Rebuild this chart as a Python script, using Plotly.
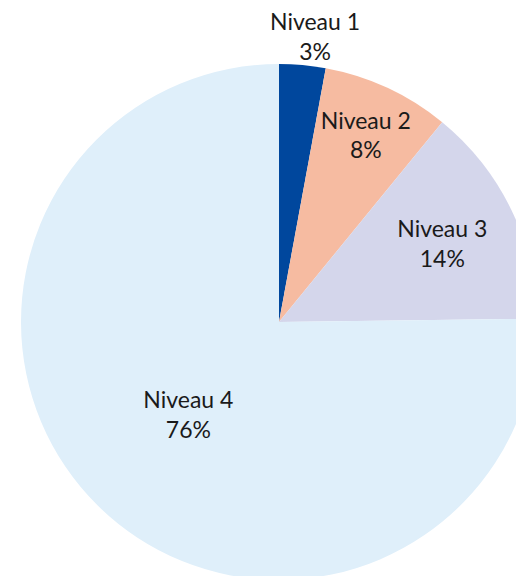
import plotly.graph_objects as go

# Répartition par niveau (parts)
niveaux = ["Niveau 1", "Niveau 2", "Niveau 3", "Niveau 4"]
parts = [2.9, 8.0, 13.9, 75.2]
etiquettes_pct = ["3%", "8%", "14%", "76%"]
couleurs = ["#00479D", "#F6BBA1", "#D4D6EB", "#DFEFFA"]

# la petite part est étiquetée au-dessus du camembert (annotation plus bas)
textes = [""] + [f"{n}<br>{p}" for n, p in zip(niveaux[1:], etiquettes_pct[1:])]

fig = go.Figure(go.Pie(
    labels=niveaux,
    values=parts,
    text=textes,
    textinfo="text",
    textposition="inside",
    insidetextorientation="horizontal",
    sort=False,
    direction="clockwise",
    rotation=0,
    marker=dict(colors=couleurs, line=dict(width=0)),
    textfont=dict(family="Lato", size=23, color="#1a1a1a"),
    hoverinfo="label+percent",
))

fig.add_annotation(
    x=0.565, y=1, xref="paper", yref="paper",
    xanchor="center", yanchor="bottom", yshift=-3,
    text=f"{niveaux[0]}<br>{etiquettes_pct[0]}", showarrow=False,
    font=dict(family="Lato", size=23, color="#1a1a1a"),
)

# le camembert déborde légèrement de la fenêtre, comme sur l'original
fig.update_layout(
    width=558,
    height=580,
    margin=dict(l=0, r=0, t=64, b=0),
    showlegend=False,
    paper_bgcolor="white",
    plot_bgcolor="white",
    uniformtext=dict(minsize=23, mode="show"),
)

fig.write_html(
    "out.html",
    config={"displayModeBar": False},
    post_script="document.body.style.margin='0';document.body.style.overflow='hidden';",
)
